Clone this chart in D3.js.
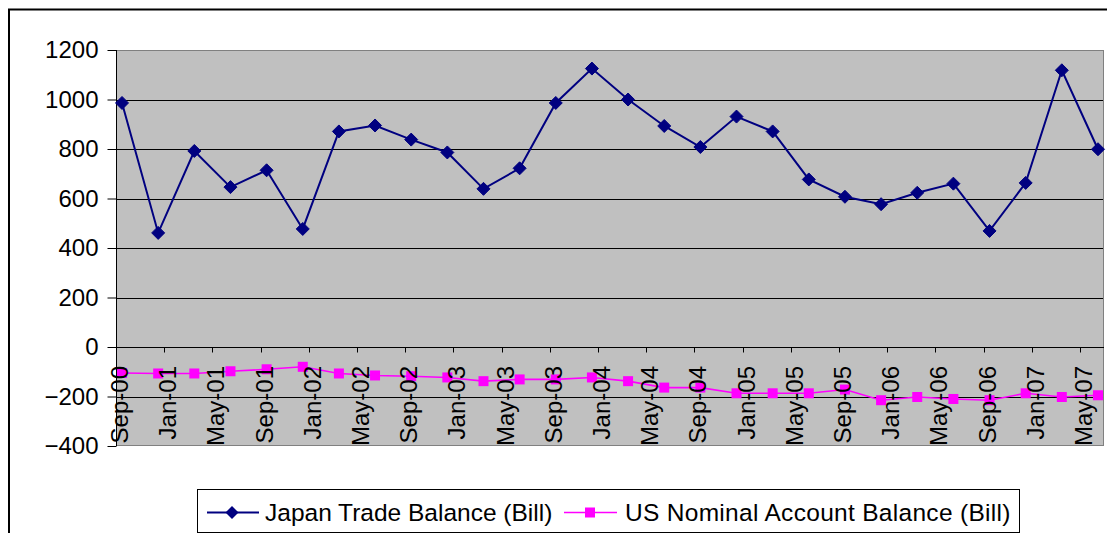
<!DOCTYPE html>
<html>
<head>
<meta charset="utf-8">
<script src="https://cdn.jsdelivr.net/npm/d3@7"></script>
<style>
  html, body { margin: 0; padding: 0; background: #fff; }
  svg { display: block; }
  text { font-family: "Liberation Sans", Arial, sans-serif; fill: #000; }
</style>
</head>
<body>
<svg id="chart" width="1107" height="533"></svg>
<script>
// ---- data ----
const categories = ["Sep-00","Dec-00","Mar-01","Jun-01","Sep-01","Dec-01","Mar-02","Jun-02",
  "Sep-02","Dec-02","Mar-03","Jun-03","Sep-03","Dec-03","Mar-04","Jun-04","Sep-04","Dec-04",
  "Mar-05","Jun-05","Sep-05","Dec-05","Mar-06","Jun-06","Sep-06","Dec-06","Mar-07","Jun-07"];
const japanTrade = [986, 461, 792, 646, 714, 477, 871, 895, 838, 786, 639, 722, 986, 1125,
  1000, 893, 808, 931, 871, 677, 607, 577, 623, 660, 469, 663, 1118, 799];
const usAccount = [-105, -107, -107, -98, -90, -80, -107, -115, -118, -123, -138, -131, -131, -123,
  -138, -164, -164, -187, -187, -187, -172, -215, -202, -210, -215, -187, -202, -195];
const xTickLabels = ["Sep-00","Jan-01","May-01","Sep-01","Jan-02","May-02","Sep-02","Jan-03",
  "May-03","Sep-03","Jan-04","May-04","Sep-04","Jan-05","May-05","Sep-05","Jan-06","May-06",
  "Sep-06","Jan-07","May-07"];
const yTicks = [1200, 1000, 800, 600, 400, 200, 0, -200, -400];
const seriesNames = ["Japan Trade Balance (Bill)", "US Nominal Account Balance (Bill)"];

// ---- layout ----
const plot = { left: 116, right: 1104, top: 50, bottom: 446 };
const svg = d3.select("#chart");
const fmt = d3.timeFormat("%b-%y");
const months = d3.timeMonth.range(new Date(2000, 8, 1), new Date(2007, 6, 1)).map(fmt);

const x = d3.scaleBand().domain(months).range([plot.left, plot.right]).padding(0);
const xc = d => x(d) + x.bandwidth() / 2;
const y = d3.scaleLinear().domain([-400, 1200]).range([plot.bottom, plot.top]);

// outer chart border
svg.append("rect").attr("x", 9).attr("y", 9.5).attr("width", 1200).attr("height", 700)
  .attr("fill", "none").attr("stroke", "#000").attr("stroke-width", 2);

// plot area
svg.append("rect").attr("x", plot.left).attr("y", plot.top)
  .attr("width", plot.right - plot.left).attr("height", plot.bottom - plot.top)
  .attr("fill", "#C0C0C0");

// gridlines
svg.append("g").selectAll("line").data(yTicks.filter(v => v !== 1200 && v !== -400 && v !== 0))
  .join("line")
  .attr("x1", plot.left).attr("x2", plot.right)
  .attr("y1", d => Math.round(y(d)) + 0.5).attr("y2", d => Math.round(y(d)) + 0.5)
  .attr("stroke", "#000").attr("stroke-width", 1);

// plot border
svg.append("rect").attr("x", plot.left + 0.5).attr("y", Math.round(plot.top) + 0.5)
  .attr("width", plot.right - plot.left - 1).attr("height", plot.bottom - plot.top - 1)
  .attr("fill", "none").attr("stroke", "#808080").attr("stroke-width", 1);

// y axis
const yAxis = d3.axisLeft(y).tickValues(yTicks).tickSize(9).tickPadding(0).tickFormat(d3.format("d"));
const gy = svg.append("g").attr("transform", `translate(${plot.left + 0.5},0)`).call(yAxis);
gy.select(".domain").attr("stroke", "#000").attr("d", `M0,${plot.top}V${plot.bottom}`);
gy.selectAll(".tick line").attr("stroke", "#000");
gy.selectAll(".tick text").attr("font-size", 24).attr("x", -18).attr("dy", "0.33em")
  .style("font-family", '"Liberation Sans", Arial, sans-serif');

// x axis line at zero with ticks
const y0 = Math.round(y(0)) + 0.5;
svg.append("line").attr("x1", plot.left).attr("x2", plot.right).attr("y1", y0).attr("y2", y0)
  .attr("stroke", "#000");
svg.append("g").selectAll("line").data(xTickLabels.slice(1)).join("line")
  .attr("x1", d => Math.round(x(d)) + 0.5).attr("x2", d => Math.round(x(d)) + 0.5)
  .attr("y1", y0).attr("y2", y0 + 5).attr("stroke", "#000");

// series
const line = d3.line().x((d, i) => xc(categories[i])).y(d => y(d));
svg.append("path").datum(usAccount).attr("d", line)
  .attr("fill", "none").attr("stroke", "#FF00FF").attr("stroke-width", 1.6);
svg.append("path").datum(japanTrade).attr("d", line)
  .attr("fill", "none").attr("stroke", "#000080").attr("stroke-width", 2);

const diamond = (cx, cy, r) => `M${cx},${cy - r}L${cx + r},${cy}L${cx},${cy + r}L${cx - r},${cy}Z`;
svg.append("g").selectAll("path").data(japanTrade).join("path")
  .attr("d", (d, i) => diamond(xc(categories[i]), y(d), 6.5))
  .attr("fill", "#000080").attr("stroke", "#000080").attr("stroke-width", 1);
svg.append("g").selectAll("rect").data(usAccount).join("rect")
  .attr("x", (d, i) => xc(categories[i]) - 5).attr("y", d => y(d) - 5)
  .attr("width", 10).attr("height", 10).attr("fill", "#FF00FF");

// x tick labels (rotated)
svg.append("g").selectAll("text").data(xTickLabels).join("text")
  .attr("transform", d => `translate(${xc(d) + 6},366) rotate(-90)`)
  .attr("text-anchor", "end").attr("font-size", 24).text(d => d);

// legend
const lg = svg.append("g");
lg.append("rect").attr("x", 197.5).attr("y", 489.5).attr("width", 822).attr("height", 43)
  .attr("fill", "#fff").attr("stroke", "#000").attr("stroke-width", 1);
const ly = 512.5;
lg.append("line").attr("x1", 207).attr("x2", 259).attr("y1", ly).attr("y2", ly)
  .attr("stroke", "#000080").attr("stroke-width", 2);
lg.append("path").attr("d", diamond(232, ly, 6.5)).attr("fill", "#000080");
lg.append("text").attr("x", 265).attr("y", ly + 8.5).attr("font-size", 24.5).text(seriesNames[0]);
lg.append("line").attr("x1", 564).attr("x2", 617).attr("y1", ly).attr("y2", ly)
  .attr("stroke", "#FF00FF").attr("stroke-width", 1.6);
lg.append("rect").attr("x", 585).attr("y", ly - 5).attr("width", 10).attr("height", 10).attr("fill", "#FF00FF");
lg.append("text").attr("x", 625).attr("y", ly + 8.5).attr("font-size", 24.5)
  .attr("letter-spacing", 0.3).text(seriesNames[1]);
</script>
</body>
</html>
